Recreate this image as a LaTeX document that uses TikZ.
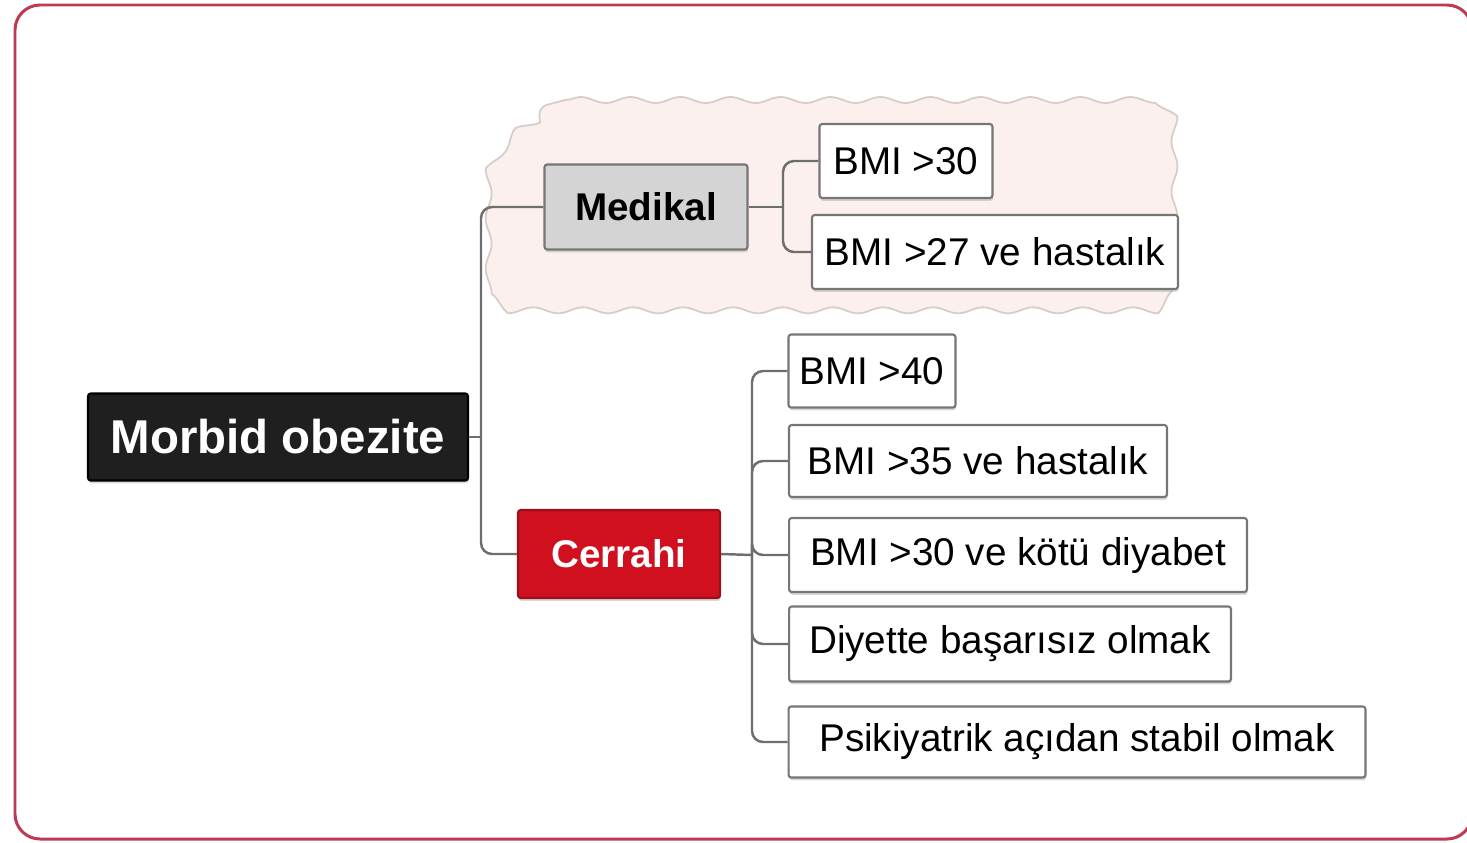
\documentclass[tikz,border=0pt]{standalone}
\usepackage{fontspec}
\setmainfont{Liberation Sans}
\usetikzlibrary{decorations.pathmorphing,shadows}

\definecolor{framered}{HTML}{BD3A52}
\definecolor{linegray}{HTML}{6E6E6E}
\definecolor{boxgray}{HTML}{767676}
\definecolor{medfill}{HTML}{D4D4D4}
\definecolor{cerfill}{HTML}{D0101E}
\definecolor{cerdraw}{HTML}{9A0F1A}
\definecolor{cloudfill}{HTML}{FBF0EE}
\definecolor{clouddraw}{HTML}{D6CCC8}

\tikzset{
  box/.style={rectangle, rounded corners=1.5pt, line width=1.2pt, inner sep=0pt,
    font=\fontsize{22}{26}\selectfont,
    drop shadow={shadow xshift=0.4pt, shadow yshift=-1.6pt, opacity=0.3}},
  leaf/.style={box, draw=boxgray, fill=white, minimum height=1.48cm},
  rootbox/.style={box, draw=black, fill=black!88, text=white,
    font=\fontsize{27}{32}\selectfont\bfseries},
  conn/.style={draw=linegray, line width=1.4pt, rounded corners=0.22cm},
}

\begin{document}
\begin{tikzpicture}[x=0.02cm, y=-0.02cm]
  \useasboundingbox (0,0) rectangle (1467,842);

  % Frame
  \draw[framered, line width=1.7pt, rounded corners=0.5cm] (15,5) rectangle (1472,839);

  % Cloud behind the medical branch
  \filldraw[fill=cloudfill, draw=clouddraw, line width=1pt,
    decorate, decoration={snake, amplitude=0.06cm, segment length=1.0cm}]
    (565,100) -- (1144,100) -- (1162,118) -- (1162,294) -- (1142,314)
    -- (508,314) -- (473,288) -- (473,165) -- (500,128) -- (540,108) -- cycle;

  % Root
  \node[rootbox, minimum width=7.6cm, minimum height=1.74cm] (root) at (278,437) {Morbid obezite};

  % Second level
  \node[box, draw=boxgray, fill=medfill, font=\fontsize{22}{26}\selectfont\bfseries,
    minimum width=4.06cm, minimum height=1.7cm] (med) at (646,207) {Medikal};
  \node[box, draw=cerdraw, fill=cerfill, text=white, font=\fontsize{22}{26}\selectfont\bfseries,
    minimum width=4.04cm, minimum height=1.76cm] (cer) at (619,554) {Cerrahi};

  % Leaves: Medikal
  \node[leaf, minimum width=3.46cm] (b30) at (906,161) {BMI >30};
  \node[leaf, minimum width=7.32cm] (b27) at (995,252) {BMI >27 ve hastalık};

  % Leaves: Cerrahi
  \node[leaf, minimum width=3.34cm, minimum height=1.46cm] (b40) at (872,371) {BMI >40};
  \node[leaf, minimum width=7.56cm, minimum height=1.44cm] (b35) at (978,461) {BMI >35 ve hastalık};
  \node[leaf, minimum width=9.16cm] (b30d) at (1018,555) {BMI >30 ve kötü diyabet};
  \node[leaf, minimum width=8.84cm, minimum height=1.5cm] (diyet) at (1010,644) {Diyette başarısız olmak};
  \node[leaf, minimum width=11.54cm, minimum height=1.42cm] (psik) at (1077,742) {Psikiyatrik açıdan stabil olmak};

  % Connectors
  \coordinate (bus1) at (481,437);
  \coordinate (bus2) at (783,207);
  \coordinate (bus3) at (752,555);
  \draw[conn] (root.east) -- (bus1);
  \draw[conn] (bus1) |- (med.west);
  \draw[conn] (bus1) |- (cer.west);

  \draw[conn] (med.east) -- (bus2);
  \draw[conn] (bus2) |- (b30.west);
  \draw[conn] (bus2) |- (b27.west);

  \draw[conn] (cer.east) -- (bus3);
  \foreach \n in {b40,b35,b30d,diyet,psik}
    \draw[conn] (bus3) |- (\n.west);
\end{tikzpicture}
\end{document}
